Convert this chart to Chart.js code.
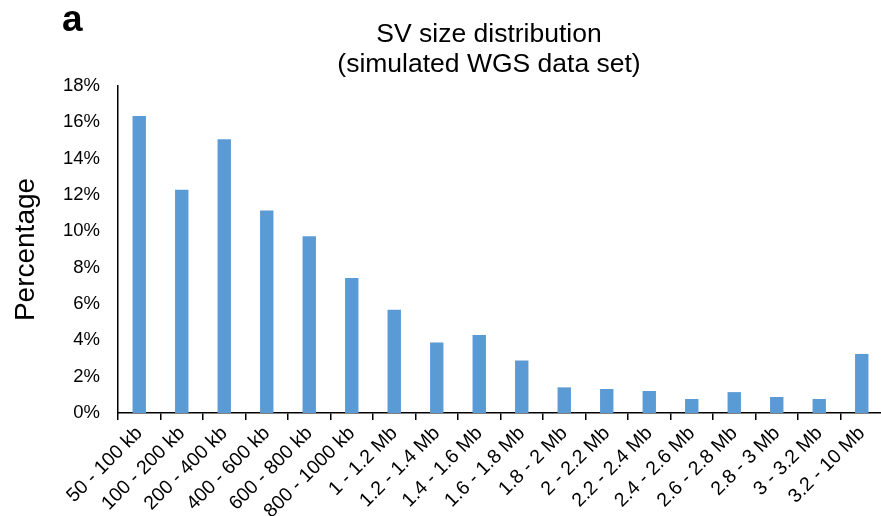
<!DOCTYPE html>
<html>
<head>
<meta charset="utf-8">
<script src="https://cdn.jsdelivr.net/npm/chart.js@4.4.1/dist/chart.umd.min.js"></script>
<style>
  html, body { margin: 0; padding: 0; background: #fff; overflow: hidden; }
  #wrap { width: 883px; height: 516px; }
</style>
</head>
<body>
<div id="wrap"><canvas id="svChart" width="883" height="516"></canvas></div>
<script>
// size classes (x axis)
var sizeBins = ['50 - 100 kb', '100 - 200 kb', '200 - 400 kb', '400 - 600 kb',
                '600 - 800 kb', '800 - 1000 kb', '1 - 1.2 Mb', '1.2 - 1.4 Mb',
                '1.4 - 1.6 Mb', '1.6 - 1.8 Mb', '1.8 - 2 Mb', '2 - 2.2 Mb',
                '2.2 - 2.4 Mb', '2.4 - 2.6 Mb', '2.6 - 2.8 Mb', '2.8 - 3 Mb',
                '3 - 3.2 Mb', '3.2 - 10 Mb'];

// percentage of SVs per size class
var svPercent = [16.35, 12.29, 15.07, 11.14, 9.73, 7.43, 5.69, 3.88, 4.30,
                 2.89, 1.41, 1.32, 1.21, 0.77, 1.15, 0.88, 0.77, 3.25];

var yMin = 0;
var yMax = 18;
var yStep = 2;

var titleLines = ['SV size distribution', '(simulated WGS data set)'];
var panelLetter = 'a';

var fontFam = '"Liberation Sans", Arial, sans-serif';

// draws the panel letter and the two title lines
var titlePlugin = {
    id: 'titleText',
    afterDraw: function (chart) {
        var ctx = chart.ctx;
        ctx.save();
        ctx.fillStyle = '#000';
        ctx.textBaseline = 'alphabetic';
        ctx.textAlign = 'left';
        ctx.font = 'bold 37px ' + fontFam;
        ctx.fillText(panelLetter, 62, 31);
        ctx.textAlign = 'center';
        ctx.font = '26.5px ' + fontFam;
        ctx.fillText(titleLines[0], 489, 42);
        ctx.fillText(titleLines[1], 489, 72);
        ctx.restore();
    }
};

var ctx = document.getElementById('svChart').getContext('2d');
var svChart = new Chart(ctx, {
    type: 'bar',
    data: {
        labels: sizeBins,
        datasets: [{
            data: svPercent,
            backgroundColor: '#5B9BD5',
            borderWidth: 0,
            barPercentage: 0.315,
            categoryPercentage: 1
        }]
    },
    options: {
        responsive: false,
        devicePixelRatio: 1,
        animation: false,
        layout: { padding: { top: 86, right: 0, bottom: 0, left: 0 } },
        plugins: {
            legend: { display: false },
            tooltip: { enabled: false }
        },
        scales: {
            x: {
                offset: true,
                grid: {
                    offset: true,
                    drawOnChartArea: false,
                    drawTicks: true,
                    tickLength: 7,
                    color: '#000',
                    lineWidth: 1.5
                },
                border: { display: true, color: '#000', width: 1.5 },
                ticks: {
                    autoSkip: false,
                    minRotation: 45,
                    maxRotation: 45,
                    padding: 2,
                    color: '#000',
                    font: { family: fontFam, size: 19.5 }
                },
                afterFit: function (scale) {
                    scale.height = 103;
                    scale.paddingLeft = 0;
                    scale.paddingRight = 0;
                }
            },
            y: {
                min: yMin,
                max: yMax,
                grid: { display: false, drawTicks: false },
                border: { display: true, color: '#000', width: 1.5 },
                ticks: {
                    stepSize: yStep,
                    padding: 18,
                    color: '#000',
                    font: { family: fontFam, size: 18.5 },
                    callback: function (v) { return v + '%'; }
                },
                title: {
                    display: true,
                    text: 'Percentage',
                    color: '#000',
                    padding: { top: 9, bottom: 0 },
                    font: { family: fontFam, size: 28 }
                },
                afterFit: function (scale) {
                    scale.width = 118;
                }
            }
        }
    },
    plugins: [titlePlugin]
});
</script>
</body>
</html>
